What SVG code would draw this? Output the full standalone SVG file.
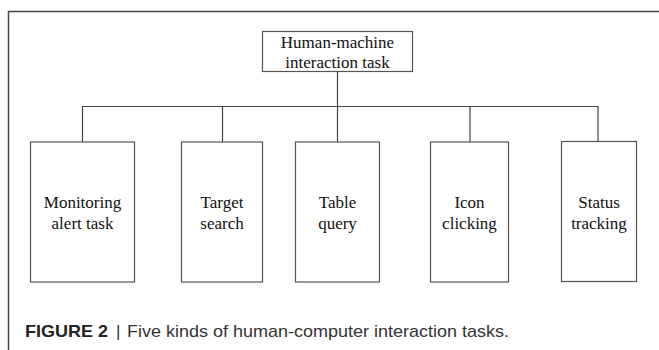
<svg xmlns="http://www.w3.org/2000/svg" width="659" height="350" viewBox="0 0 659 350">
  <style>
    .frame { fill: none; stroke: #444; stroke-width: 1.5; }
    .box { fill: #fff; stroke: #555; stroke-width: 1.2; }
    .link { fill: none; stroke: #444; stroke-width: 1.2; }
    .label { font-family: "Liberation Serif", "Times New Roman", serif; font-size: 17px; fill: #111; text-anchor: middle; }
    .caption { font-family: "Liberation Sans", Arial, sans-serif; font-size: 17px; fill: #333; }
    .fig { font-weight: bold; fill: #222; }
  </style>
  <rect width="659" height="350" fill="#fff"/>

  <!-- figure frame (top and left edges) -->
  <path class="frame" d="M8.5,350 V11.5 H659"/>

  <!-- tree connectors -->
  <g id="connectors">
    <path class="link" d="M337.5,71.5 V106.5"/>
    <path class="link" d="M82.5,142 V106.5 H598 V142"/>
    <path class="link" d="M222.5,106.5 V142"/>
    <path class="link" d="M337.5,106.5 V142"/>
    <path class="link" d="M470,106.5 V142"/>
  </g>

  <g id="root">
    <rect class="box" x="262.5" y="31.5" width="150" height="40"/>
    <text class="label" x="337.5" y="47.5">Human-machine</text>
    <text class="label" x="337.5" y="67.5">interaction task</text>
  </g>

  <g id="monitoring">
    <rect class="box" x="30.5" y="142" width="104" height="140"/>
    <text class="label" x="82.5" y="208">Monitoring</text>
    <text class="label" x="82.5" y="229">alert task</text>
  </g>

  <g id="target">
    <rect class="box" x="181.5" y="142" width="81" height="140"/>
    <text class="label" x="222" y="208">Target</text>
    <text class="label" x="222" y="229">search</text>
  </g>

  <g id="table">
    <rect class="box" x="295.5" y="142" width="84" height="140"/>
    <text class="label" x="337.5" y="208">Table</text>
    <text class="label" x="337.5" y="229">query</text>
  </g>

  <g id="icon">
    <rect class="box" x="430.5" y="142" width="78" height="140"/>
    <text class="label" x="469.5" y="208">Icon</text>
    <text class="label" x="469.5" y="229">clicking</text>
  </g>

  <g id="status">
    <rect class="box" x="561.5" y="141.5" width="75" height="140"/>
    <text class="label" x="599" y="208">Status</text>
    <text class="label" x="599" y="229">tracking</text>
  </g>

  <!-- caption -->
  <text class="caption fig" x="25" y="336.5" textLength="83" lengthAdjust="spacingAndGlyphs">FIGURE 2</text>
  <text class="caption" x="116" y="336.5">|</text>
  <text class="caption" x="127" y="336.5" textLength="382" lengthAdjust="spacingAndGlyphs">Five kinds of human-computer interaction tasks.</text>
</svg>
